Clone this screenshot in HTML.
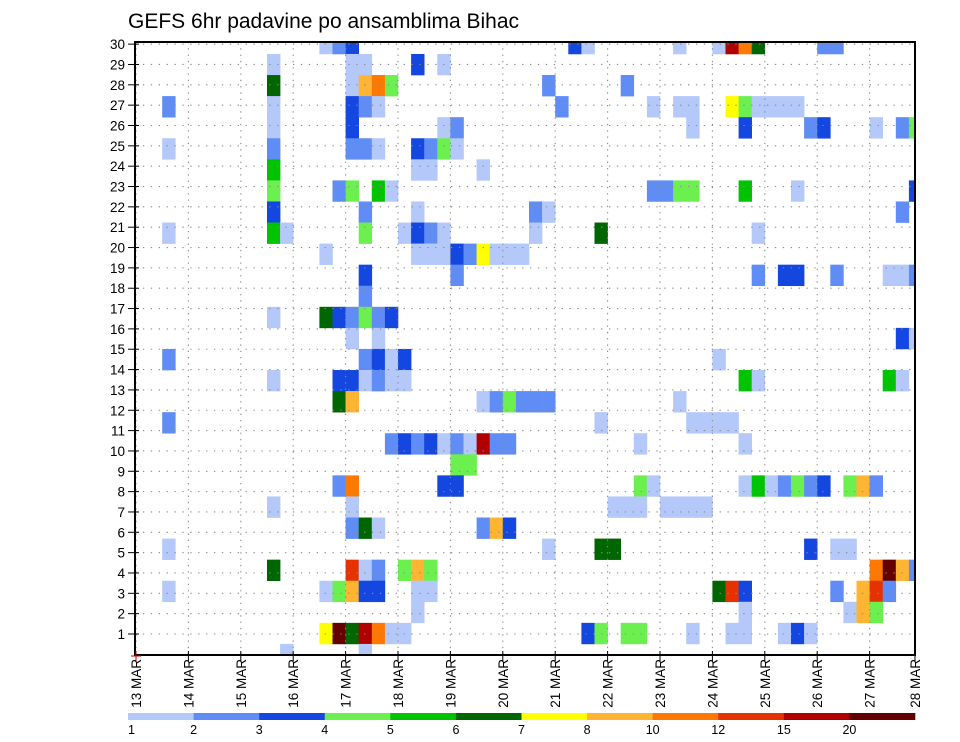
<!DOCTYPE html>
<html><head><meta charset="utf-8">
<style>
html,body{margin:0;padding:0;background:#fff;}
svg{display:block;font-family:"Liberation Sans",sans-serif;}
</style></head>
<body>
<svg id="chart" width="960" height="742" viewBox="0 0 960 742" xmlns="http://www.w3.org/2000/svg">
<rect x="0" y="0" width="960" height="742" fill="#fff"/>
<text x="128" y="28" font-size="21" fill="#000">GEFS 6hr padavine po ansamblima Bihac</text>
<defs><clipPath id="plotclip"><rect x="135" y="42" width="780" height="613"/></clipPath></defs>
<g id="cells" clip-path="url(#plotclip)"></g>
<g id="grid"></g>
<g id="axes"></g>
<g id="legend"></g>
</svg>
<script>
// ---- data ----
const dayLabels = ["13 MAR","14 MAR","15 MAR","16 MAR","17 MAR","18 MAR","19 MAR","20 MAR","21 MAR","22 MAR","23 MAR","24 MAR","25 MAR","26 MAR","27 MAR","28 MAR"];
const memberTicks = [1,2,3,4,5,6,7,8,9,10,11,12,13,14,15,16,17,18,19,20,21,22,23,24,25,26,27,28,29,30];
const levelLabels = ["1","2","3","4","5","6","7","8","10","12","15","20"];
const levels = [1,2,3,4,5,6,7,8,10,12,15,20];
const levelColors = ["#b4c8fa","#5f8cf5","#1446e0","#6cf050","#00c400","#006600","#ffff00","#ffb432","#ff7800","#e63200","#b00000","#640000"];
const memberIds = [29,28,27,26,25,24,23,22,21,20,19,18,17,16,15,14,13,12,11,10,9,8,7,6,5,4,3,2,1,0];
const stepsByMember = [
 [14,15,16,33,34,41,44,45,46,47,52,53],
 [10,16,17,21,23],
 [10,16,17,18,19,31,37],
 [2,10,16,17,18,32,39,41,42,45,46,47,48,49,50],
 [10,16,23,24,42,46,51,52,56,58,59],
 [2,10,16,17,18,21,22,23,24],
 [10,21,22,26],
 [10,15,16,18,19,39,40,41,42,46,50,59],
 [10,17,21,30,31,58],
 [2,10,11,17,20,21,22,23,30,35,47],
 [14,21,22,23,24,25,26,27,28,29],
 [17,24,47,49,50,53,57,58,59],
 [17],
 [10,14,15,16,17,18,19],
 [16,18,58,59],
 [2,17,18,19,20,44],
 [10,15,16,17,18,19,20,46,47,57,58],
 [15,16,26,27,28,29,30,31,41],
 [2,35,42,43,44,45],
 [19,20,21,22,23,24,25,26,27,28,38,46],
 [24,25],
 [15,16,23,24,38,39,46,47,48,49,50,51,52,54,55,56],
 [10,16,36,37,38,40,41,42,43],
 [16,17,18,26,27,28],
 [2,31,35,36,51,53,54],
 [10,16,17,18,20,21,22,56,57,58,59],
 [2,14,15,16,17,18,21,22,44,45,46,53,55,56,57],
 [21,46,54,55,56],
 [14,15,16,17,18,19,20,34,35,37,38,42,45,46,49,50,51],
 [11,17]
];
const precipByMember = [
 [1.5,2.5,3.5,3.5,1.5,1.5,1.5,17.5,11,6.5,2.5,2.5],
 [1.5,1.5,1.5,3.5,1.5],
 [6.5,1.5,9,11,4.5,2.5,2.5],
 [2.5,1.5,3.5,2.5,1.5,2.5,1.5,1.5,1.5,7.5,4.5,1.5,1.5,1.5,1.5],
 [1.5,3.5,1.5,2.5,1.5,3.5,2.5,3.5,1.5,2.5,4.5],
 [1.5,2.5,2.5,2.5,1.5,3.5,2.5,4.5,1.5],
 [5.5,1.5,1.5,1.5],
 [4.5,2.5,4.5,5.5,1.5,2.5,2.5,4.5,4.5,5.5,1.5,3.5],
 [3.5,2.5,1.5,2.5,1.5,2.5],
 [1.5,5.5,1.5,4.5,1.5,3.5,2.5,1.5,1.5,6.5,1.5],
 [1.5,1.5,1.5,1.5,3.5,2.5,7.5,1.5,1.5,1.5],
 [3.5,2.5,2.5,3.5,3.5,2.5,1.5,1.5,2.5],
 [2.5],
 [1.5,6.5,3.5,2.5,4.5,2.5,3.5],
 [1.5,1.5,3.5,1.5],
 [2.5,2.5,3.5,1.5,3.5,1.5],
 [1.5,3.5,3.5,1.5,2.5,1.5,1.5,5.5,1.5,5.5,1.5],
 [6.5,9,1.5,2.5,4.5,2.5,2.5,2.5,1.5],
 [2.5,1.5,1.5,1.5,1.5,1.5],
 [2.5,3.5,2.5,3.5,1.5,2.5,1.5,17.5,2.5,2.5,1.5,1.5],
 [4.5,4.5],
 [2.5,11,3.5,3.5,4.5,1.5,1.5,5.5,1.5,2.5,4.5,2.5,3.5,4.5,9,2.5],
 [1.5,1.5,1.5,1.5,1.5,1.5,1.5,1.5,1.5],
 [2.5,6.5,1.5,2.5,9,3.5],
 [1.5,1.5,6.5,6.5,3.5,1.5,1.5],
 [6.5,13.5,1.5,2.5,4.5,9,4.5,11,25,9,2.5],
 [1.5,1.5,4.5,9,3.5,3.5,1.5,1.5,6.5,13.5,3.5,2.5,9,13.5,2.5],
 [1.5,1.5,1.5,9,4.5],
 [7.5,25,6.5,17.5,11,1.5,1.5,3.5,4.5,4.5,4.5,1.5,1.5,1.5,1.5,3.5,1.5],
 [1.5,1.5]
];

// ---- scales ----
const NS = "http://www.w3.org/2000/svg";
const plotL = 135, plotR = 915, plotT = 42, plotB = 655;
const day0X = 136, dayW = 52.4, stepW = dayW / 4;
function xDay(d){ return day0X + d * dayW; }
function xStep(k){ return day0X + k * stepW; }
function yTick(r){ return 634 - (r - 1) * 20.34; }
const cellH = 21.07;
function yCellTop(j){ return 665 - (j + 1) * cellH; }
function colorFor(v){
  let c = -1;
  for (let i = 0; i < levels.length; i++) if (v >= levels[i]) c = i;
  return c < 0 ? null : levelColors[c];
}
function mk(tag, attrs, parent){
  const e = document.createElementNS(NS, tag);
  for (const k in attrs) e.setAttribute(k, attrs[k]);
  parent.appendChild(e);
  return e;
}

// ---- cells ----
const cellsG = document.getElementById("cells");
memberIds.forEach((j, mi) => {
  stepsByMember[mi].forEach((k, si) => {
    const v = precipByMember[mi][si];
    const col = colorFor(v);
    if (!col) return;
    const r = mk("rect", {x: xStep(k).toFixed(2), y: yCellTop(j).toFixed(2), width: (stepW + 0.3).toFixed(2), height: (cellH + 0.3).toFixed(2), fill: col}, cellsG);
    
    
  });
});

// ---- grid ----
const gridG = document.getElementById("grid");
memberTicks.forEach(r => {
  const y = yTick(r);
  const l = mk("line", {x1: plotL, x2: plotR, y1: y, y2: y, stroke: "#8a8a8a", "stroke-width": 1.1, "stroke-dasharray": "1.3 6.6"}, gridG);
  
  
});
dayLabels.forEach((d, i) => {
  const x = xDay(i);
  if (x > plotR) return;
  const l = mk("line", {x1: x, x2: x, y1: plotT, y2: plotB, stroke: "#8a8a8a", "stroke-width": 1.1, "stroke-dasharray": "1.3 5"}, gridG);
  
  
});

// ---- axes ----
const axG = document.getElementById("axes");
const frame = mk("rect", {x: plotL, y: plotT, width: plotR - plotL, height: plotB - plotT, fill: "none", stroke: "#000", "stroke-width": 2}, axG);


memberTicks.forEach(r => {
  const y = yTick(r);
  const t = mk("line", {x1: plotL - 7, x2: plotL + 4, y1: y, y2: y, stroke: "#000", "stroke-width": 1}, axG);
  
  
  const lb = mk("text", {x: plotL - 10, y: y + 5, "font-size": 13.5, "text-anchor": "end", fill: "#000"}, axG);
  lb.textContent = r;
  
  
});
dayLabels.forEach((d, i) => {
  const x = Math.min(xDay(i), plotR);
  const t = mk("line", {x1: x, x2: x, y1: plotB - 4, y2: plotB + 6, stroke: i === 0 ? "#c00000" : "#000", "stroke-width": 1}, axG);
  
  
  const tx = x + 5;
  const lb = mk("text", {x: 0, y: 0, "font-size": 13.5, "text-anchor": "end", fill: "#000", transform: "translate(" + tx + "," + (plotB + 4) + ") rotate(-90)"}, axG);
  lb.textContent = d;
  
  
});
const redMark = mk("line", {x1: plotL - 4, x2: plotL + 6, y1: plotB + 1, y2: plotB + 1, stroke: "#c00000", "stroke-width": 1}, axG);



// ---- legend ----
const lgG = document.getElementById("legend");
const lgL = 128, lgR = 915, lgY = 713, lgH = 7;
const segW = (lgR - lgL) / levelColors.length;
levelColors.forEach((c, i) => {
  const r = mk("rect", {x: (lgL + i * segW).toFixed(2), y: lgY, width: (segW + 0.3).toFixed(2), height: lgH, fill: c}, lgG);
  
  
});
levelLabels.forEach((t, i) => {
  const x = lgL + i * segW;
  const lb = mk("text", {x: x, y: 734, "font-size": 12.5, "text-anchor": i === 0 ? "start" : "middle", fill: "#000"}, lgG);
  lb.textContent = t;
  
  
});
</script>
</body></html>
